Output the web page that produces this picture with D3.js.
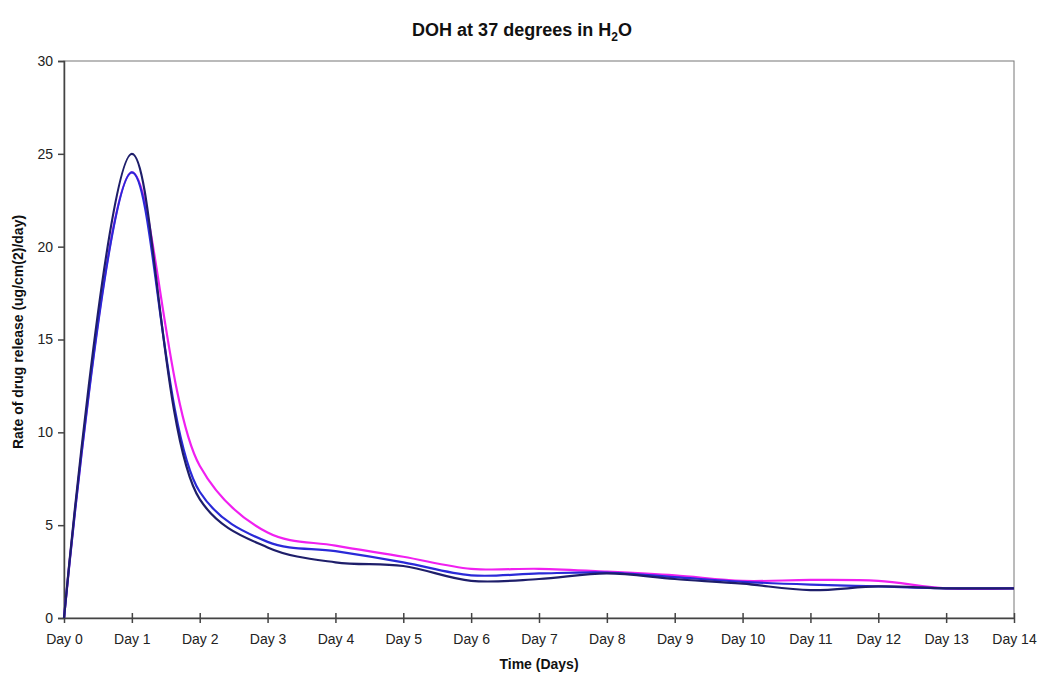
<!DOCTYPE html>
<html>
<head>
<meta charset="utf-8">
<script src="https://cdn.jsdelivr.net/npm/d3@7"></script>
<style>
  body { margin: 0; background: #fff; }
  svg { font-family: "Liberation Sans", Arial, sans-serif; }
</style>
</head>
<body>
<svg id="chart" width="1038" height="675"></svg>
<script>
// day labels on the x axis
var days = ["Day 0", "Day 1", "Day 2", "Day 3", "Day 4", "Day 5", "Day 6", "Day 7",
            "Day 8", "Day 9", "Day 10", "Day 11", "Day 12", "Day 13", "Day 14"];

// three release curves
var navySeries    = [0, 25.0, 6.4, 3.8, 3.0, 2.8, 2.0, 2.1, 2.4, 2.1, 1.85, 1.5, 1.7, 1.6, 1.6];
var blueSeries    = [0, 24.0, 6.8, 4.1, 3.6, 3.0, 2.3, 2.4, 2.45, 2.2, 1.95, 1.8, 1.7, 1.6, 1.6];
var magentaSeries = [0, 24.0, 8.2, 4.6, 3.9, 3.3, 2.65, 2.65, 2.5, 2.3, 2.0, 2.05, 2.0, 1.6, 1.6];

var yTicks = [0, 5, 10, 15, 20, 25, 30];

var svg = d3.select("#chart");

// plot box (don't use "top", it's taken by window.top)
var plotLeft = 64, plotRight = 1014, plotTop = 61, plotBottom = 618;

var xScale = d3.scalePoint()
    .domain(days)
    .range([plotLeft, plotRight]);

var yScale = d3.scaleLinear()
    .domain([0, 30])
    .range([plotBottom, plotTop]);

// plot border (top and right sides)
svg.append("rect")
    .attr("x", plotLeft)
    .attr("y", plotTop)
    .attr("width", plotRight - plotLeft)
    .attr("height", plotBottom - plotTop)
    .attr("fill", "none")
    .attr("stroke", "#777")
    .attr("stroke-width", 1);

// y axis
var yAxis = svg.append("g")
    .attr("transform", "translate(" + plotLeft + ",0)")
    .call(d3.axisLeft(yScale).tickValues(yTicks).tickSize(6).tickPadding(5));
yAxis.select(".domain").attr("stroke", "#444").attr("stroke-width", 1.5);
yAxis.selectAll(".tick line").attr("stroke", "#444").attr("stroke-width", 1.5);
yAxis.selectAll("text")
    .attr("font-size", 14)
    .attr("fill", "#222")
    .attr("font-family", "Liberation Sans, Arial, sans-serif");

// x axis, ticks cross the axis line
var xAxis = svg.append("g")
    .attr("transform", "translate(0," + plotBottom + ")")
    .call(d3.axisBottom(xScale).tickSizeInner(6).tickSizeOuter(0).tickPadding(10));
xAxis.select(".domain").attr("stroke", "#444").attr("stroke-width", 1.5);
xAxis.selectAll(".tick line")
    .attr("y1", -5)
    .attr("y2", 5)
    .attr("stroke", "#444")
    .attr("stroke-width", 1.5);
xAxis.selectAll("text")
    .attr("font-size", 14)
    .attr("fill", "#222")
    .attr("font-family", "Liberation Sans, Arial, sans-serif");

// smooth lines, centripetal catmull-rom keeps the knee after Day 2 smooth
var line = d3.line()
    .x(function (d, i) { return xScale(days[i]) })
    .y(function (d) { return yScale(d) })
    .curve(d3.curveCatmullRom.alpha(0.5));

var series = [
    { values: magentaSeries, color: "#f020f0" },
    { values: blueSeries, color: "#2a2ad8" },
    { values: navySeries, color: "#1e1e6a" }
];

series.forEach(function (s) {
    svg.append("path")
        .datum(s.values)
        .attr("fill", "none")
        .attr("stroke", s.color)
        .attr("stroke-width", 2.2)
        .attr("d", line);
});

// title with subscript
var title = svg.append("text")
    .attr("x", 522)
    .attr("y", 36)
    .attr("text-anchor", "middle")
    .attr("font-size", 18)
    .attr("font-weight", "bold")
    .attr("fill", "#111");
title.append("tspan").text("DOH at 37 degrees in H");
title.append("tspan").attr("font-size", 12).attr("dy", 5).text("2");
title.append("tspan").attr("dy", -5).text("O");

// axis titles
svg.append("text")
    .attr("x", (plotLeft + plotRight) / 2)
    .attr("y", 669)
    .attr("text-anchor", "middle")
    .attr("font-size", 14)
    .attr("font-weight", "bold")
    .attr("fill", "#111")
    .text("Time (Days)");

svg.append("text")
    .attr("transform", "translate(23,332) rotate(-90)")
    .attr("text-anchor", "middle")
    .attr("font-size", 14)
    .attr("font-weight", "bold")
    .attr("fill", "#111")
    .text("Rate of drug release (ug/cm(2)/day)");
</script>
</body>
</html>
